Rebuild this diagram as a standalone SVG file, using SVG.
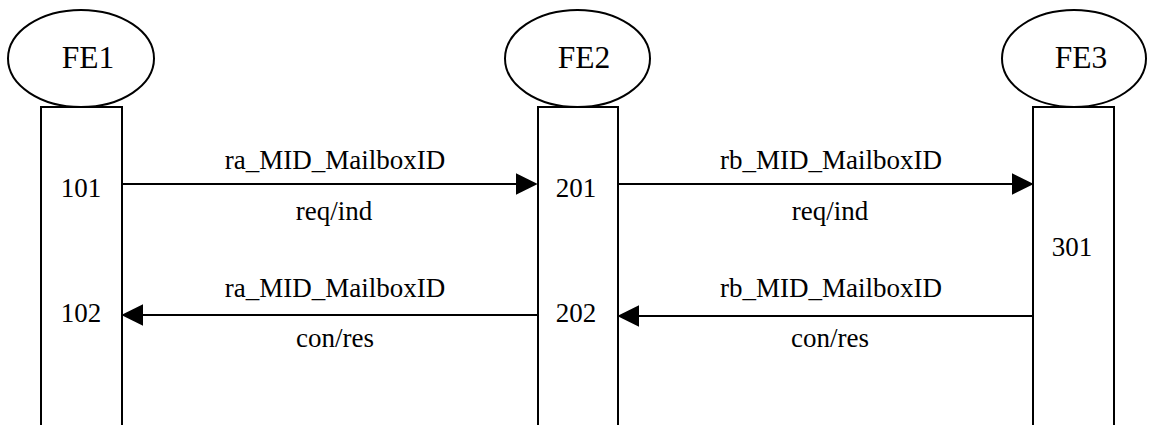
<svg xmlns="http://www.w3.org/2000/svg" width="1151" height="425" viewBox="0 0 1151 425">
<style>
.shape{fill:#fff;stroke:#000;stroke-width:2}
.t{font-family:"Times New Roman",Times,"Nimbus Roman","Nimbus Roman No9 L",Tinos,"DejaVu Serif",serif;font-size:27px;fill:#000;text-anchor:middle}
.h{font-size:31.5px}
.conn{stroke:#000;stroke-width:2.2;fill:none}
</style>
<defs>
<marker id="ah" markerUnits="userSpaceOnUse" markerWidth="22" markerHeight="22" refX="6" refY="10.5" orient="auto" viewBox="0 0 21 21">
<path d="M0,0 L21,10.5 L0,21 z" fill="#000"/>
</marker>
</defs>
<rect width="1151" height="425" fill="#fff"/>
<g id="fe1">
<rect class="shape" x="41" y="107" width="81" height="330"/>
<ellipse class="shape" cx="81" cy="58.5" rx="73" ry="48.5"/>
<text class="t h" x="88" y="67.5">FE1</text>
<text class="t" x="81" y="197">101</text>
<text class="t" x="81" y="322">102</text>
</g>
<g id="fe2">
<rect class="shape" x="538" y="107" width="80" height="330"/>
<ellipse class="shape" cx="577.5" cy="58.5" rx="72.5" ry="48.5"/>
<text class="t h" x="584" y="67.5">FE2</text>
<text class="t" x="576" y="197">201</text>
<text class="t" x="576" y="322">202</text>
</g>
<g id="fe3">
<rect class="shape" x="1033" y="107" width="81" height="330"/>
<ellipse class="shape" cx="1074" cy="58.5" rx="72" ry="48.5"/>
<text class="t h" x="1081" y="67.5">FE3</text>
<text class="t" x="1072" y="256">301</text>
</g>
<g id="connectors">
<line class="conn" x1="122" y1="184" x2="522" y2="184" marker-end="url(#ah)"/>
<line class="conn" x1="618" y1="184" x2="1018" y2="184" marker-end="url(#ah)"/>
<line class="conn" x1="537" y1="315" x2="137" y2="315" marker-end="url(#ah)"/>
<line class="conn" x1="1033" y1="316" x2="633" y2="316" marker-end="url(#ah)"/>
<text class="t" x="335" y="169">ra_MID_MailboxID</text>
<text class="t" x="334" y="220">req/ind</text>
<text class="t" x="831" y="169">rb_MID_MailboxID</text>
<text class="t" x="830" y="220">req/ind</text>
<text class="t" x="335" y="297">ra_MID_MailboxID</text>
<text class="t" x="335" y="347">con/res</text>
<text class="t" x="831" y="297">rb_MID_MailboxID</text>
<text class="t" x="830" y="347">con/res</text>
</g>
</svg>
